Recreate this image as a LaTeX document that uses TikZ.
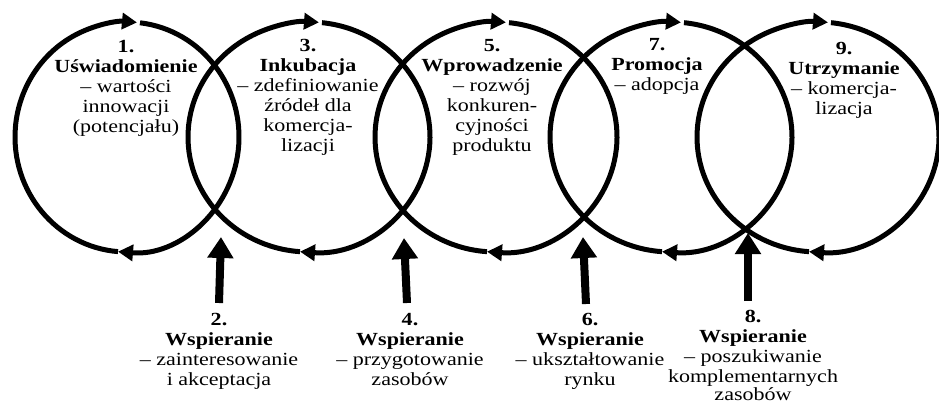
\documentclass[tikz,border=0pt]{standalone}
\usepackage{fontspec}
\setmainfont{Liberation Serif}[FakeStretch=1.19]
\usetikzlibrary{arrows.meta}
\begin{document}
\begin{tikzpicture}[x=1pt,y=1pt,
  ring/.style={line width=5pt,-{Triangle[length=15pt,width=16pt]}},
  push/.style={line width=8pt,-{Triangle[length=21pt,width=25pt]}},
  lbl/.style={align=center,inner sep=0pt,anchor=north,font=\fontsize{18.5}{20}\selectfont}]
\useasboundingbox (0,0) rectangle (939,405);
\foreach \n/\cx/\rx in {1/127/112,2/309/121,3/496/121,4/671/121,5/818/121}{
  \coordinate (c\n) at (\cx,268);
  \pgfmathsetmacro\ab{-90-asin(9/\rx)}
  \pgfmathsetmacro\at{90-asin(10/\rx)-360}
  \pgfmathsetmacro\as{90-asin(13/\rx)}
  \draw[ring] (c\n) ++(\ab:\rx pt and 115pt) arc[start angle=\ab,end angle=\at,x radius=\rx,y radius=115];
  \draw[ring] (c\n) ++(\as:\rx pt and 115pt) arc[start angle=\as,end angle=\ab,x radius=\rx,y radius=115];
}
% top labels
\node[lbl] (t1) at (126,364.5) {\textbf{1.}\\\textbf{Uświadomienie}\\– wartości\\innowacji\\(potencjału)};
\node[lbl] (t3) at (308,365.5) {\textbf{3.}\\\textbf{Inkubacja}\\– zdefiniowanie\\źródeł dla\\komercja-\\lizacji};
\node[lbl] (t5) at (492,365.5) {\textbf{5.}\\\textbf{Wprowadzenie}\\– rozwój\\konkuren-\\cyjności\\produktu};
\node[lbl] (t7) at (657,366.5) {\textbf{7.}\\\textbf{Promocja}\\– adopcja};
\node[lbl] (t9) at (844,362.5) {\textbf{9.}\\\textbf{Utrzymanie}\\– komercja-\\lizacja};
% bottom labels
\node[lbl] (t2) at (219,91.5) {\textbf{2.}\\\textbf{Wspieranie}\\– zainteresowanie\\i akceptacja};
\node[lbl] (t4) at (410,91.5) {\textbf{4.}\\\textbf{Wspieranie}\\– przygotowanie\\zasobów};
\node[lbl] (t6) at (590,91.5) {\textbf{6.}\\\textbf{Wspieranie}\\– ukształtowanie\\rynku};
\node[lbl] (t8) at (753,95) {\textbf{8.}\\\textbf{Wspieranie}\\– poszukiwanie\\komplementarnych\\[-2pt]zasobów};
% upward arrows
\coordinate (a2b) at (219,102); \coordinate (a2t) at (221,168);
\coordinate (a4b) at (407,102); \coordinate (a4t) at (404,167);
\coordinate (a6b) at (586,101); \coordinate (a6t) at (583,168);
\coordinate (a8b) at (748,104); \coordinate (a8t) at (748,172);
\draw[push] (a2b) -- (a2t);
\draw[push] (a4b) -- (a4t);
\draw[push] (a6b) -- (a6t);
\draw[push] (a8b) -- (a8t);
\end{tikzpicture}
\end{document}
